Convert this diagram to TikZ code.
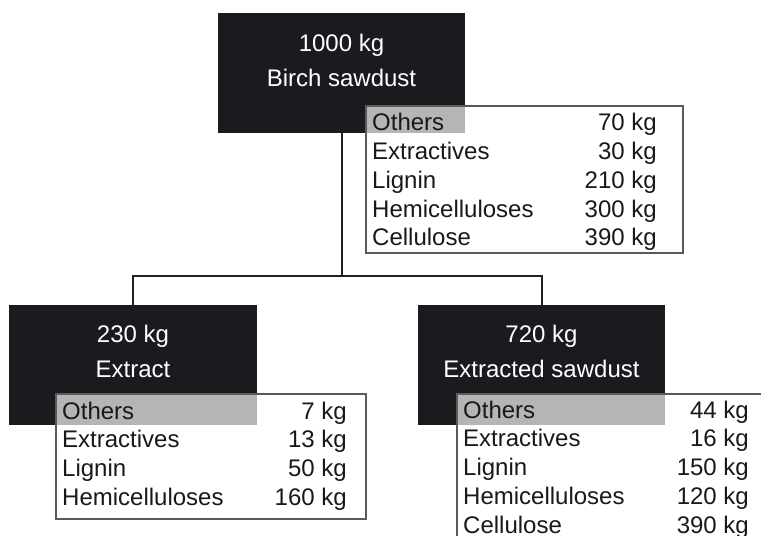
\documentclass[tikz,border=0pt]{standalone}
\usepackage{fontspec}
\setmainfont{Liberation Sans}
\definecolor{boxblack}{RGB}{28,26,30}
\definecolor{linecol}{RGB}{35,31,32}
\definecolor{tabborder}{RGB}{90,90,90}
\begin{document}
\begin{tikzpicture}[x=1bp,y=-1bp,
  blackbox/.style={fill=boxblack,draw=none,inner sep=0pt,anchor=north west},
  tabbox/.style={fill=white,fill opacity=0.68,draw=tabborder,draw opacity=1,line width=2bp,inner sep=0pt,anchor=north west},
  wtxt/.style={text=white,inner sep=0pt,anchor=base,font=\fontsize{24bp}{28bp}\selectfont},
  ltxt/.style={text=black!90,inner sep=0pt,anchor=base west,font=\fontsize{24bp}{28bp}\selectfont},
  rtxt/.style={text=black!90,inner sep=0pt,anchor=base east,font=\fontsize{24bp}{28bp}\selectfont},
  conn/.style={draw=linecol,line width=2.2bp}]
\clip (0,0) rectangle (761,536);
\fill[white] (0,0) rectangle (761,536);
% black boxes
\node[blackbox,minimum width=247bp,minimum height=120bp] (B0) at (218,13) {};
\node[blackbox,minimum width=248bp,minimum height=120bp] (B1) at (9,305) {};
\node[blackbox,minimum width=247bp,minimum height=120bp] (B2) at (418,305) {};
% connectors
\draw[conn] (B0.south) -- ++(0,143) coordinate (J) -| (B1.north);
\draw[conn] (J) -| (B2.north);
% titles
\node[wtxt] (B0a) at (341.5,52) {1000 kg};
\node[wtxt] (B0b) at (341.5,87) {Birch sawdust};
\node[wtxt] (B1a) at (133,342) {230 kg};
\node[wtxt] (B1b) at (133,377) {Extract};
\node[wtxt] (B2a) at (541.5,342) {720 kg};
\node[wtxt] (B2b) at (541.5,377) {Extracted sawdust};
% tables
\node[tabbox,minimum width=317bp,minimum height=147bp] (T0) at (365,105) {};
\node[tabbox,minimum width=310bp,minimum height=125bp] (T1) at (55,393) {};
\node[tabbox,minimum width=360bp,minimum height=180bp] (T2) at (456,393) {};
% top table rows
\foreach \n/\v [count=\i from 0] in {Others/70,Extractives/30,Lignin/210,Hemicelluloses/300,Cellulose/390}{
  \node[ltxt] (T0l\i) at (372,{131+28.7*\i}) {\n};
  \node[rtxt] (T0r\i) at (657,{131+28.7*\i}) {\v\ kg};
}
% left table rows
\foreach \n/\v [count=\i from 0] in {Others/7,Extractives/13,Lignin/50,Hemicelluloses/160}{
  \node[ltxt] (T1l\i) at (62,{419+28.7*\i}) {\n};
  \node[rtxt] (T1r\i) at (347,{419+28.7*\i}) {\v\ kg};
}
% right table rows
\foreach \n/\v [count=\i from 0] in {Others/44,Extractives/16,Lignin/150,Hemicelluloses/120,Cellulose/390}{
  \node[ltxt] (T2l\i) at (463,{418+28.8*\i}) {\n};
  \node[rtxt] (T2r\i) at (749,{418+28.8*\i}) {\v\ kg};
}
\end{tikzpicture}
\end{document}
